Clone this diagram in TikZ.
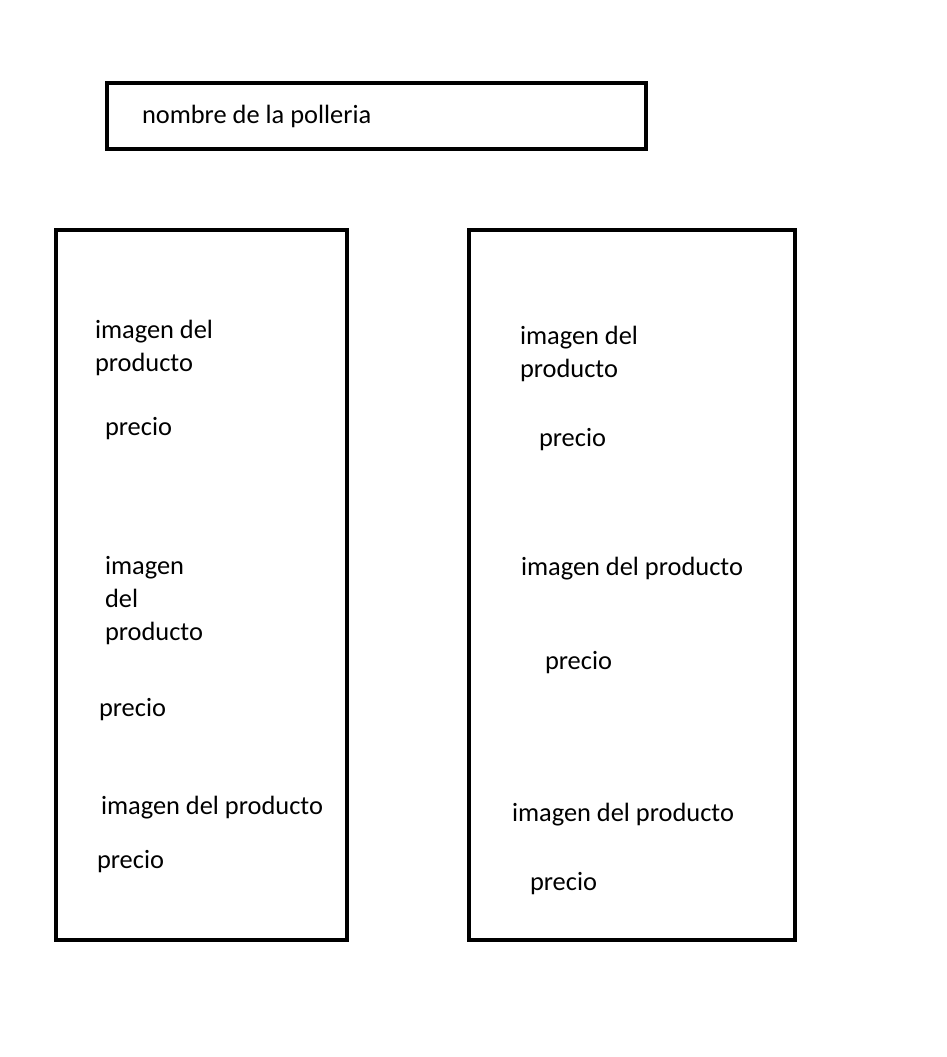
\documentclass[tikz,border=0pt]{standalone}
\usepackage{fontspec}
\setmainfont{Carlito}
\usetikzlibrary{positioning}

\begin{document}
\begin{tikzpicture}[x=1pt,y=-1pt,line width=4pt,
	caja/.style={draw,black},
	texto/.style={anchor=base west,inner sep=0pt,font=\fontsize{26.4}{33}\selectfont,align=left}]
\useasboundingbox (0,0) rectangle (947,1057);

%encabezado
\draw [caja] (107,83) rectangle (646,149);
\node [texto] (nombre) at (140,123) {nombre de la polleria};

%columna izquierda
\draw [caja] (56,230) rectangle (347,940);
\node [texto] (img1) at (93,371) {imagen del\\producto};
\node [texto] (pre1) at (103,435) {precio};
\node [texto] (img2) at (103,640) {imagen\\del\\producto};
\node [texto] (pre2) at (97,716) {precio};
\node [texto] (img3) at (99,814) {imagen del producto};
\node [texto] (pre3) at (95,868) {precio};

%columna derecha
\draw [caja] (469,230) rectangle (795,940);
\node [texto] (img4) at (518,377) {imagen del\\producto};
\node [texto] (pre4) at (537,446) {precio};
\node [texto] (img5) at (519,575) {imagen del producto};
\node [texto] (pre5) at (543,669) {precio};
\node [texto] (img6) at (510,821) {imagen del producto};
\node [texto] (pre6) at (528,890) {precio};

\end{tikzpicture}
\end{document}
